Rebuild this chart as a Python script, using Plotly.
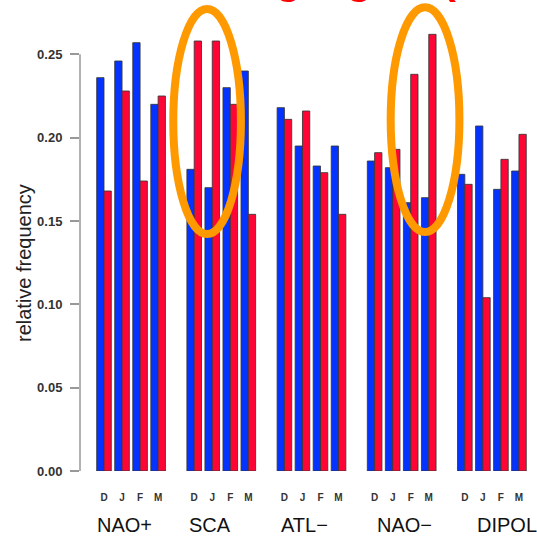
import plotly.graph_objects as go

# Weather regimes and winter months
regimes = ["NAO+", "SCA", "ATL−", "NAO−", "DIPOL"]
months = ["D", "J", "F", "M"]

# Relative frequency per regime (rows) and month (columns)
freq_blue = [
    [0.236, 0.246, 0.257, 0.220],
    [0.181, 0.170, 0.230, 0.240],
    [0.218, 0.195, 0.183, 0.195],
    [0.186, 0.182, 0.161, 0.164],
    [0.178, 0.207, 0.169, 0.180],
]
freq_red = [
    [0.168, 0.228, 0.174, 0.225],
    [0.258, 0.258, 0.220, 0.154],
    [0.211, 0.216, 0.179, 0.154],
    [0.191, 0.193, 0.238, 0.262],
    [0.172, 0.104, 0.187, 0.202],
]

y_ticks = [0.00, 0.05, 0.10, 0.15, 0.20, 0.25]

# Layout: one slot per month, plus an empty slot between regimes
SLOTS_PER_GROUP = len(months) + 1
x_pos, x_lab, yb, yr = [], [], [], []
for g, reg in enumerate(regimes):
    for m, mon in enumerate(months):
        x_pos.append(g * SLOTS_PER_GROUP + m)
        x_lab.append(mon)
        yb.append(freq_blue[g][m])
        yr.append(freq_red[g][m])

BLUE = "#0433FF"
RED = "#FF0535"
ORANGE = "#FF9900"
EDGE = "rgba(55,55,55,0.85)"

fig = go.Figure()
fig.add_trace(go.Bar(x=x_pos, y=yb, marker=dict(color=BLUE, line=dict(color=EDGE, width=1)),
                     showlegend=False, name="blue"))
fig.add_trace(go.Bar(x=x_pos, y=yr, marker=dict(color=RED, line=dict(color=EDGE, width=1)),
                     showlegend=False, name="red"))

Y_MAX = 0.2826
X_RANGE = [-1.33, 24.0]

fig.update_layout(
    width=537, height=537,
    margin=dict(l=80, r=0, t=0, b=66),
    paper_bgcolor="white", plot_bgcolor="white",
    barmode="group", bargap=0.19, bargroupgap=0,
    font=dict(family="Liberation Sans, Arial, sans-serif"),
    xaxis=dict(range=X_RANGE, showgrid=False, zeroline=False, showline=False,
               tickmode="array", tickvals=x_pos, ticktext=x_lab, ticks="",
               tickfont=dict(size=10, color="#333", weight="bold"),
               ticklabelstandoff=19),
    yaxis=dict(range=[0, Y_MAX], showgrid=False, zeroline=False, showline=False,
               tickmode="array", tickvals=y_ticks, ticktext=[f"{v:.2f}" for v in y_ticks],
               ticks="outside", ticklen=9, tickwidth=1.5, tickcolor="#999",
               tickfont=dict(size=13, color="#333", weight="bold"),
               ticklabelstandoff=5),
)

shapes = []
# y axis line spanning only the tick range
shapes.append(dict(type="line", xref="paper", yref="paper", x0=0, x1=0,
                   y0=0, y1=y_ticks[-1] / Y_MAX, line=dict(color="#999", width=1.5)))
# highlight ellipses around SCA (D, J) and NAO− (F, M)
for x0, x1, y0, y1 in [(3.84, 7.59, 0.1422, 0.2772), (15.89, 19.70, 0.1434, 0.2782)]:
    shapes.append(dict(type="circle", xref="x", yref="y", x0=x0, x1=x1, y0=y0, y1=y1,
                       line=dict(color=ORANGE, width=8), layer="above"))
fig.update_layout(shapes=shapes)

annotations = []
# regime names below the month letters
label_left = [-0.50, 4.62, 9.70, 15.02, 20.56]
for reg, xl in zip(regimes, label_left):
    annotations.append(dict(text=reg, x=xl, y=-0.1146, xref="x", yref="paper",
                            xanchor="left", yanchor="middle", showarrow=False,
                            font=dict(size=20, color="#111")))
# y axis title
annotations.append(dict(text="relative frequency", x=-0.1225, y=0.4416, xref="paper", yref="paper",
                        textangle=-90, showarrow=False, xanchor="center", yanchor="middle",
                        font=dict(size=20, color="#222")))
# slide heading running off the top edge
annotations.append(dict(text="Strong signal (DJFM)", x=(167 - 80) / 457, y=1.0,
                        xref="paper", yref="paper", xanchor="left", yanchor="bottom",
                        yshift=-5, showarrow=False,
                        font=dict(size=41, color="#FF0000", weight="bold")))
fig.update_layout(annotations=annotations)

fig.write_html("out.html")
